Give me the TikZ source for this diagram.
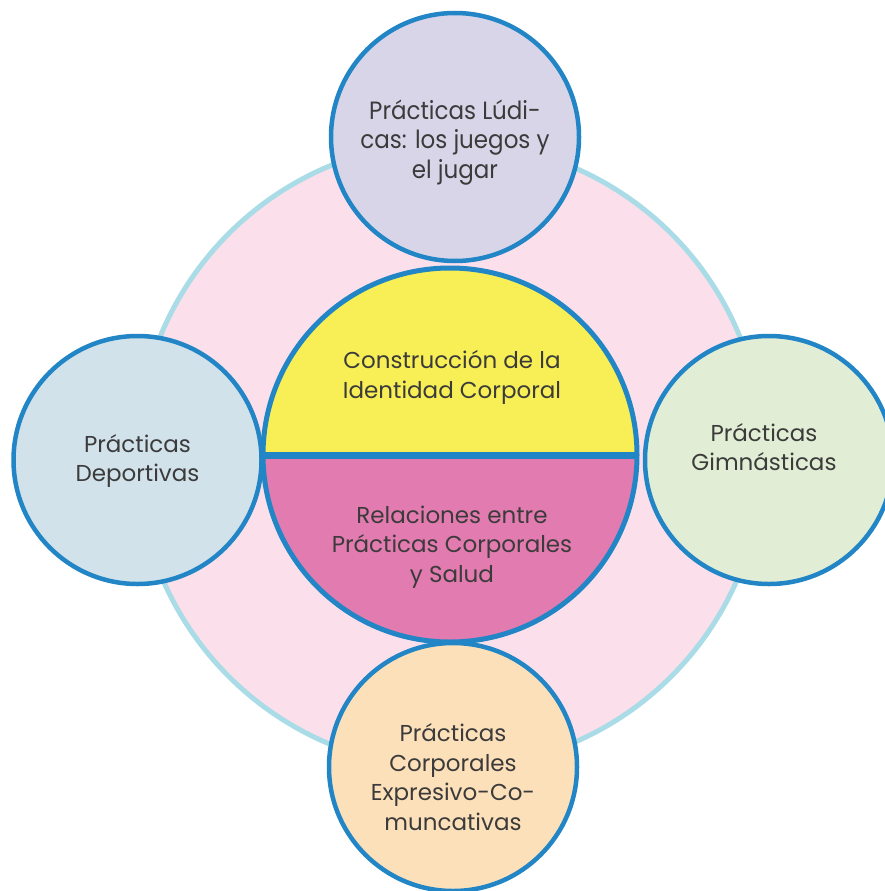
\documentclass[tikz,border=0pt]{standalone}
\usepackage{fontspec}
\setmainfont{Poppins}
\newfontfamily\condfont[FakeStretch=0.92]{Poppins}
\definecolor{bgpink}{HTML}{FBE0EB}
\definecolor{bgring}{HTML}{A9DCE6}
\definecolor{ringblue}{HTML}{2286C6}
\definecolor{fillpurple}{HTML}{D9D5E8}
\definecolor{fillblue}{HTML}{D1E2EB}
\definecolor{fillgreen}{HTML}{E1EED5}
\definecolor{fillorange}{HTML}{FCE0BA}
\definecolor{fillyellow}{HTML}{F7EF55}
\definecolor{fillmagenta}{HTML}{E27BAF}
\definecolor{txt}{HTML}{3C3B3B}
\begin{document}
\begin{tikzpicture}[x=1pt,y=-1pt,
  bubble/.style={circle, draw=ringblue, line width=4.5pt, minimum size=248pt, inner sep=0pt},
  label/.style={text=txt, align=center, font=\fontsize{23}{29.5}\selectfont, inner sep=0pt}]
\useasboundingbox (0,0) rectangle (884,891);
% background ring
\node[circle, fill=bgpink, draw=bgring, line width=5pt, minimum size=626pt, inner sep=0pt] (bg) at (450,455) {};
% center circle halves
\fill[fillyellow] (263,455) arc[start angle=180, end angle=360, radius=187] -- cycle;
\fill[fillmagenta] (263,455) arc[start angle=180, end angle=0, radius=187] -- cycle;
\node[circle, draw=ringblue, line width=5pt, minimum size=374pt, inner sep=0pt] (core) at (450,455) {};
\coordinate (splitL) at (262,455);
\coordinate (splitR) at (638,455);
\draw[ringblue, line width=7pt] (splitL) -- (splitR);
\node[label] (ident) at (452,377.5) {Construcción de la\\Identidad Corporal};
\node[label] (salud) at (452,547) {Relaciones entre\\Prácticas Corporales\\y Salud};
% outer bubbles
\node[bubble, fill=fillpurple] (ludicas) at (455,137) {};
\node[bubble, fill=fillblue] (deportivas) at (137.5,460) {};
\node[bubble, fill=fillgreen] (gimnasticas) at (769,460) {};
\node[bubble, fill=fillorange] (expresivas) at (453,767) {};
\node[label, font=\condfont\fontsize{25}{29.5}\selectfont] (ludicasT) at (455,142.5) {Prácticas Lúdi-\\cas: los juegos y\\el jugar};
\node[label] (deportivasT) at (137.5,461) {Prácticas\\Deportivas};
\node[label] (gimnasticasT) at (764,447) {Prácticas\\Gimnásticas};
\node[label] (expresivasT) at (453,777) {Prácticas\\Corporales\\Expresivo-Co-\\muncativas};
\end{tikzpicture}
\end{document}
